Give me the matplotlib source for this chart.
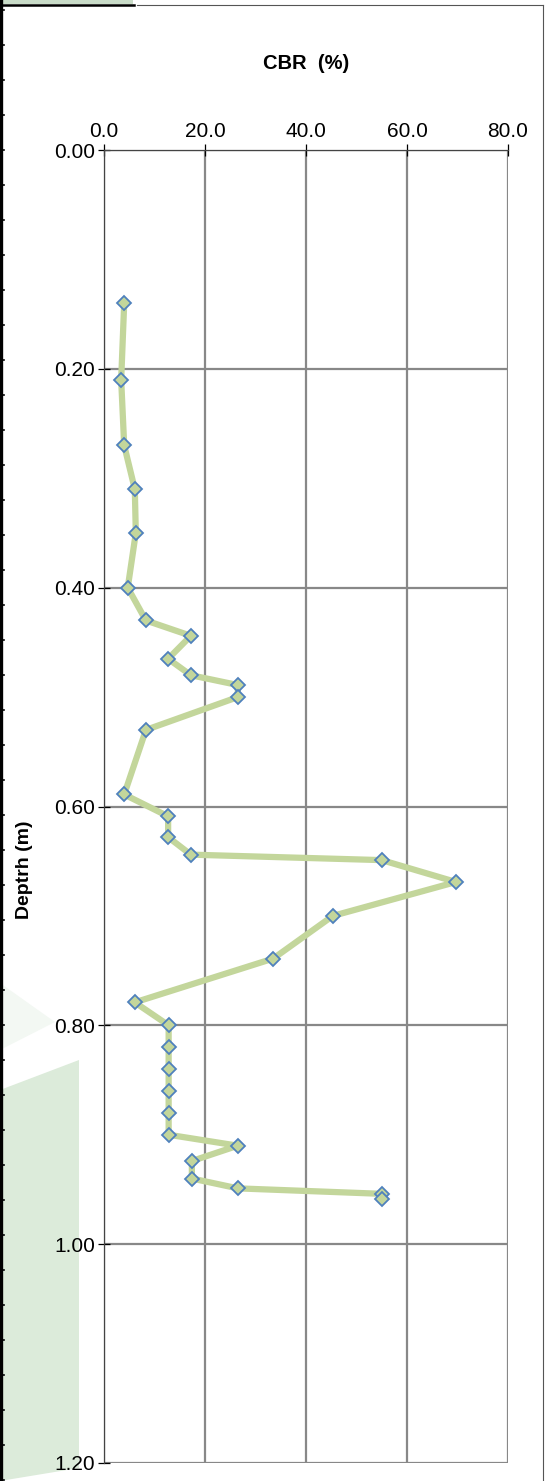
import matplotlib.pyplot as plt
from matplotlib.patches import Polygon, Rectangle
from matplotlib.lines import Line2D

# CBR readings
cbr = [4.0, 3.4, 4.0, 6.1, 6.3, 4.7, 8.3, 17.2, 12.7, 17.2, 26.5, 26.5, 8.3,
       4.0, 12.7, 12.7, 17.2, 55.0, 69.7, 45.3, 33.5, 6.1, 12.8, 12.8, 12.8,
       12.8, 12.8, 12.8, 26.5, 17.4, 17.4, 26.5, 55.0, 55.0]
depth = [0.14, 0.21, 0.27, 0.31, 0.35, 0.40, 0.43, 0.444, 0.465, 0.48, 0.489,
         0.50, 0.53, 0.589, 0.609, 0.628, 0.644, 0.649, 0.669, 0.70, 0.739,
         0.779, 0.80, 0.82, 0.84, 0.86, 0.88, 0.90, 0.91, 0.924, 0.94, 0.949,
         0.954, 0.959]

x_ticks = [0, 20, 40, 60, 80]
y_ticks = [0.0, 0.2, 0.4, 0.6, 0.8, 1.0, 1.2]

W, H = 546, 1481
plt.rcParams['font.family'] = ['Liberation Sans', 'DejaVu Sans']

fig = plt.figure(figsize=(W / 100, H / 100), dpi=100)


def px(x, y):
    """pixel (top-left origin) -> figure fraction"""
    return (x / W, 1 - y / H)


# faint watermark shapes on the left
fig.patches.append(Polygon([px(0, 983), px(55, 1022), px(0, 1050)],
                           closed=True, transform=fig.transFigure,
                           facecolor='#F3F8F3', edgecolor='none', zorder=-2))
fig.patches.append(Polygon([px(0, 1090), px(79, 1060), px(79, 1468), px(0, 1481)],
                           closed=True, transform=fig.transFigure,
                           facecolor='#DCEBDA', edgecolor='none', zorder=-2))

# screenshot frame remnants
fig.add_artist(Line2D([137 / W, 543 / W], [1 - 5 / H, 1 - 5 / H],
                      transform=fig.transFigure, color='#555555', lw=0.8))
fig.add_artist(Line2D([543 / W, 543 / W], [0, 1 - 5 / H],
                      transform=fig.transFigure, color='#555555', lw=0.8))
fig.patches.append(Rectangle(px(0, 4), 133 / W, 4 / H, transform=fig.transFigure,
                             facecolor='#C9DCC8', edgecolor='none'))
fig.add_artist(Line2D([0, 134 / W], [1 - 5 / H, 1 - 5 / H],
                      transform=fig.transFigure, color='black', lw=1.8))
fig.add_artist(Line2D([1 / W, 1 / W], [0, 1], transform=fig.transFigure,
                      color='black', lw=2.4))
for yy in range(10, H, 35):
    fig.add_artist(Line2D([1 / W, 4 / W], [1 - yy / H, 1 - yy / H],
                          transform=fig.transFigure, color='black', lw=1.2))

ax = fig.add_axes([104 / W, 1 - 1463 / H, (508 - 104) / W, (1463 - 150) / H])
ax.patch.set_alpha(0)

ax.plot(cbr, depth, color='#C3D69B', lw=4.5, marker='D', markersize=6.8,
        markerfacecolor='#C3D69B', markeredgecolor='#4F81BD',
        markeredgewidth=1.3, zorder=3)

ax.set_xlim(0, 80)
ax.set_ylim(1.2, 0.0)
ax.set_xticks(x_ticks)
ax.set_xticklabels([f'{v:.1f}' for v in x_ticks])
ax.set_yticks(y_ticks)
ax.set_yticklabels([f'{v:.2f}' for v in y_ticks])
ax.xaxis.tick_top()
ax.xaxis.set_label_position('top')
ax.tick_params(axis='both', direction='inout', length=9, width=0.9,
               labelsize=15, color='black')
ax.tick_params(axis='x', pad=2)
ax.tick_params(axis='y', pad=2)

ax.grid(True, color='#888888', lw=1.6)
ax.set_axisbelow(True)
for side in ['right', 'bottom']:
    ax.spines[side].set_visible(False)
ax.spines['left'].set_color('#444444')
ax.spines['top'].set_color('#444444')
ax.spines['left'].set_linewidth(0.9)
ax.spines['top'].set_linewidth(0.9)

ax.set_xlabel('CBR  (%)', fontsize=14.5, fontweight='bold', labelpad=38)
ax.set_ylabel('Deptrh (m)', fontsize=14, fontweight='bold')
# Excel placed the axis title a bit below the middle of the axis
ax.yaxis.set_label_coords(-0.176, 0.452)

fig.savefig('out.png', dpi=100)
